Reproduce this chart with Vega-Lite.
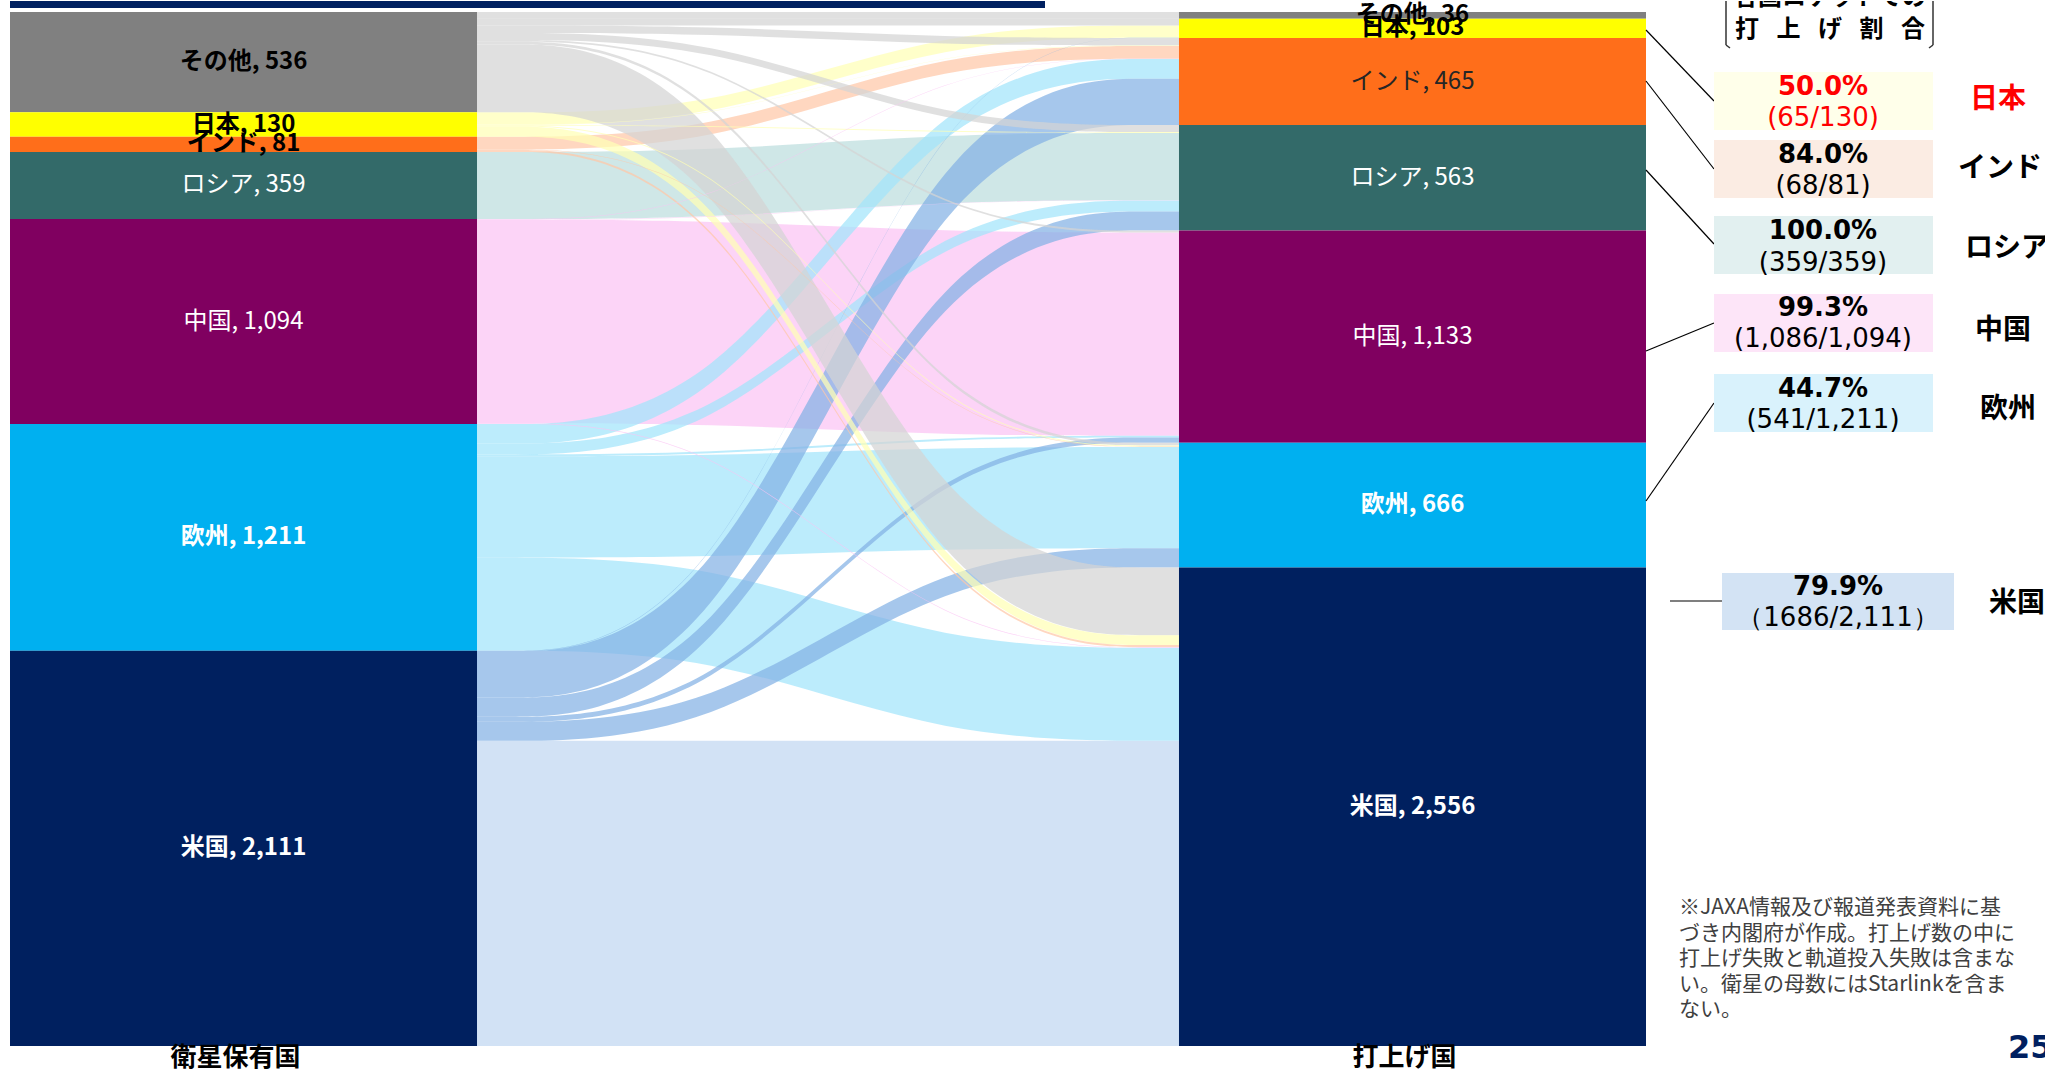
{
"$schema":"https://vega.github.io/schema/vega-lite/v6.json",
"width":2045,"height":1075,
"autosize":{"type":"fit","contains":"padding"},
"padding":0,
"background":"#FFFFFF",
"config":{"view":{"stroke":null},"font":"Noto Sans CJK JP"},
"datasets":{
"nodes":[
{"side":"衛星保有国","node":"その他","i":1,"n":536,"label":"その他, 536"},
{"side":"衛星保有国","node":"日本","i":2,"n":130,"label":"日本, 130"},
{"side":"衛星保有国","node":"インド","i":3,"n":81,"label":"インド, 81"},
{"side":"衛星保有国","node":"ロシア","i":4,"n":359,"label":"ロシア, 359"},
{"side":"衛星保有国","node":"中国","i":5,"n":1094,"label":"中国, 1,094"},
{"side":"衛星保有国","node":"欧州","i":6,"n":1211,"label":"欧州, 1,211"},
{"side":"衛星保有国","node":"米国","i":7,"n":2111,"label":"米国, 2,111"},
{"side":"打上げ国","node":"その他","i":1,"n":36,"label":"その他, 36"},
{"side":"打上げ国","node":"日本","i":2,"n":103,"label":"日本, 103"},
{"side":"打上げ国","node":"インド","i":3,"n":465,"label":"インド, 465"},
{"side":"打上げ国","node":"ロシア","i":4,"n":563,"label":"ロシア, 563"},
{"side":"打上げ国","node":"中国","i":5,"n":1133,"label":"中国, 1,133"},
{"side":"打上げ国","node":"欧州","i":6,"n":666,"label":"欧州, 666"},
{"side":"打上げ国","node":"米国","i":7,"n":2556,"label":"米国, 2,556"}
],
"flows":[
{"from":"中国","to":"中国","v":1086,"s1":"55","s2":"55","t1":"55","t2":"55"},
{"from":"ロシア","to":"ロシア","v":359,"s1":"44","s2":"44","t1":"44","t2":"44"},
{"from":"欧州","to":"欧州","v":541,"s1":"66","s2":"66","t1":"66","t2":"66"},
{"from":"米国","to":"米国","v":1630,"s1":"77","s2":"77","t1":"77","t2":"77"},
{"from":"インド","to":"インド","v":68,"s1":"33","s2":"33","t1":"33","t2":"33"},
{"from":"日本","to":"日本","v":65,"s1":"22","s2":"22","t1":"22","t2":"22"},
{"from":"欧州","to":"インド","v":105,"s1":"63","s2":"63","t1":"36","t2":"36"},
{"from":"欧州","to":"ロシア","v":58,"s1":"64","s2":"64","t1":"46","t2":"46"},
{"from":"欧州","to":"中国","v":10,"s1":"65","s2":"65","t1":"56","t2":"56"},
{"from":"欧州","to":"米国","v":497,"s1":"67","s2":"67","t1":"76","t2":"76"},
{"from":"米国","to":"日本","v":2,"s1":"72","s2":"72","t1":"27","t2":"27"},
{"from":"米国","to":"インド","v":248,"s1":"73","s2":"73","t1":"37","t2":"37"},
{"from":"米国","to":"ロシア","v":102,"s1":"74","s2":"74","t1":"47","t2":"47"},
{"from":"米国","to":"中国","v":27,"s1":"75","s2":"75","t1":"57","t2":"57"},
{"from":"米国","to":"欧州","v":102,"s1":"76","s2":"76","t1":"67","t2":"67"},
{"from":"その他","to":"その他","v":36,"s1":"11","s2":"11","t1":"11","t2":"11"},
{"from":"その他","to":"日本","v":36,"s1":"12","s2":"12","t1":"21","t2":"21"},
{"from":"その他","to":"インド","v":40,"s1":"13","s2":"13","t1":"31","t2":"31"},
{"from":"その他","to":"ロシア","v":37,"s1":"14","s2":"14","t1":"41","t2":"41"},
{"from":"その他","to":"中国","v":10,"s1":"15","s2":"15","t1":"51","t2":"51"},
{"from":"その他","to":"欧州","v":15,"s1":"16","s2":"16","t1":"61","t2":"61"},
{"from":"その他","to":"米国","v":362,"s1":"17","s2":"17","t1":"71","t2":"71"},
{"from":"日本","to":"インド","v":2,"s1":"23","s2":"23","t1":"32","t2":"32"},
{"from":"日本","to":"ロシア","v":5,"s1":"24","s2":"24","t1":"42","t2":"42"},
{"from":"日本","to":"欧州","v":5,"s1":"26","s2":"26","t1":"62","t2":"62"},
{"from":"日本","to":"米国","v":53,"s1":"27","s2":"27","t1":"72","t2":"72"},
{"from":"インド","to":"欧州","v":3,"s1":"36","s2":"36","t1":"63","t2":"63"},
{"from":"インド","to":"米国","v":10,"s1":"37","s2":"37","t1":"73","t2":"73"},
{"from":"中国","to":"インド","v":2,"s1":"53","s2":"53","t1":"35","t2":"35"},
{"from":"中国","to":"ロシア","v":2,"s1":"54","s2":"54","t1":"45","t2":"45"},
{"from":"中国","to":"米国","v":4,"s1":"57","s2":"57","t1":"75","t2":"75"}
],
"shares":[
{"country":"日本","pct":"50.0%","frac":"(65/130)"},
{"country":"インド","pct":"84.0%","frac":"(68/81)"},
{"country":"ロシア","pct":"100.0%","frac":"(359/359)"},
{"country":"中国","pct":"99.3%","frac":"(1,086/1,094)"},
{"country":"欧州","pct":"44.7%","frac":"(541/1,211)"},
{"country":"米国","pct":"79.9%","frac":"（1686/2,111）"}
]
},
"resolve":{"scale":{"x":"independent","y":"independent","color":"independent"}},
"layer":[
{
"data":{"name":"flows"},
"transform":[
{"fold":["s1","s2","t1","t2"],"as":["pt","key"]},
{"stack":"v","groupby":["pt"],"sort":[{"field":"key","order":"ascending"}],"as":["y0","y1"]}
],
"mark":{"type":"area","interpolate":"basis","fillOpacity":0.72},
"encoding":{
"x":{"field":"pt","type":"ordinal","scale":{"type":"point","domain":["s1","s2","t1","t2"],"range":[477,1179],"padding":0},"axis":null},
"y":{"field":"y0","type":"quantitative","stack":null,"scale":{"domain":[0,5522],"range":[11,1045],"nice":false,"zero":false},"axis":null},
"y2":{"field":"y1"},
"detail":[{"field":"from","type":"nominal"},{"field":"to","type":"nominal"}],
"color":{"condition":{"test":"datum.from === '米国' && datum.to !== '米国'","value":"#84B2E4"},"field":"from","type":"nominal","scale":{"domain":["その他","日本","インド","ロシア","中国","欧州","米国"],"range":["#D4D4D4","#FFFFB6","#FFC7A8","#BDDEDE","#FBC3F4","#A2E5FB","#C0D7F1"]},"legend":null}
}
},
{
"data":{"name":"nodes"},
"transform":[{"stack":"n","groupby":["side"],"sort":[{"field":"i","order":"ascending"}],"as":["y0","y1"]}],
"layer":[
{"mark":{"type":"rect"},
"encoding":{
"x":{"field":"side","type":"nominal","scale":{"type":"band","domain":["衛星保有国","打上げ国"],"range":[10,1646],"paddingInner":0.6005,"paddingOuter":0},"axis":null},
"y":{"field":"y0","type":"quantitative","stack":null,"scale":{"domain":[0,5522],"range":[11,1045],"nice":false,"zero":false},"axis":null},
"y2":{"field":"y1"},
"color":{"field":"node","type":"nominal","scale":{"domain":["その他","日本","インド","ロシア","中国","欧州","米国"],"range":["#808080","#FFFF00","#FF6E1A","#336A69","#800060","#00B0F0","#00205F"]},"legend":null}
}},
{"transform":[{"filter":"!(datum.node === 'ロシア' || datum.node === '中国' || (datum.node === 'インド' && datum.side === '打上げ国'))"},{"fold":["y0","y1"],"as":["edge","yv"]}],
"mark":{"type":"text","fontSize":24,"fontWeight":"bold","font":"Noto Sans CJK JP"},
"encoding":{
"x":{"field":"side","type":"nominal"},
"y":{"field":"yv","type":"quantitative","aggregate":"mean","stack":null},
"text":{"field":"label","type":"nominal"},
"detail":{"field":"node","type":"nominal"},
"color":{"condition":{"test":"datum.node === 'その他' || datum.node === '日本' || datum.node === 'インド'","value":"#000000"},"value":"#FFFFFF"}
}},
{"transform":[{"filter":"datum.node === 'ロシア' || datum.node === '中国' || (datum.node === 'インド' && datum.side === '打上げ国')"},{"fold":["y0","y1"],"as":["edge","yv"]}],
"mark":{"type":"text","fontSize":24,"fontWeight":"normal","font":"Noto Sans CJK JP"},
"encoding":{
"x":{"field":"side","type":"nominal"},
"y":{"field":"yv","type":"quantitative","aggregate":"mean","stack":null},
"text":{"field":"label","type":"nominal"},
"detail":{"field":"node","type":"nominal"},
"color":{"condition":{"test":"datum.node === 'インド'","value":"#262626"},"value":"#FFFFFF"}
}},
{"transform":[{"aggregate":[{"op":"count","as":"c"}],"groupby":["side"]}],
"mark":{"type":"text","fontSize":26,"fontWeight":"bold","dx":-8,"color":"#000000","font":"Noto Sans CJK JP"},
"encoding":{
"x":{"field":"side","type":"nominal"},
"y":{"datum":5588,"type":"quantitative"},
"text":{"field":"side","type":"nominal"}
}}
]
},
{
"data":{"name":"shares"},
"layer":[
{"data":{"values":[{}]},"mark":{"type":"rect","color":"#002060"},
"encoding":{"x":{"datum":10,"type":"quantitative","scale":{"domain":[0,2045],"range":[0,2045],"nice":false,"zero":false},"axis":null},"x2":{"datum":1045},
"y":{"datum":0,"type":"quantitative","scale":{"domain":[0,1075],"range":[0,1075],"nice":false,"zero":false},"axis":null},"y2":{"datum":7}}},
{"data":{"values":[{}]},"mark":{"type":"text","text":"各国ロケットでの","fontSize":24,"fontWeight":"bold","color":"#000000","clip":true},
"encoding":{"x":{"datum":1830,"type":"quantitative"},"y":{"datum":-3,"type":"quantitative"}}},
{"data":{"values":[{}]},"mark":{"type":"text","text":"打\u2002 上\u2002 げ\u2002 割\u2002 合","fontSize":24,"fontWeight":"bold","color":"#000000"},
"encoding":{"x":{"datum":1830,"type":"quantitative"},"y":{"datum":29,"type":"quantitative"}}},
{"data":{"values":[{}]},"mark":{"type":"rule","color":"#333333","strokeWidth":1.5},
"encoding":{"x":{"datum":1726,"type":"quantitative"},"x2":{"datum":1726},"y":{"datum":0,"type":"quantitative"},"y2":{"datum":44}}},
{"data":{"values":[{}]},"mark":{"type":"rule","color":"#333333","strokeWidth":1.5},
"encoding":{"x":{"datum":1726,"type":"quantitative"},"x2":{"datum":1730},"y":{"datum":44,"type":"quantitative"},"y2":{"datum":47}}},
{"data":{"values":[{}]},"mark":{"type":"rule","color":"#333333","strokeWidth":1.5},
"encoding":{"x":{"datum":1933,"type":"quantitative"},"x2":{"datum":1933},"y":{"datum":0,"type":"quantitative"},"y2":{"datum":44}}},
{"data":{"values":[{}]},"mark":{"type":"rule","color":"#333333","strokeWidth":1.5},
"encoding":{"x":{"datum":1933,"type":"quantitative"},"x2":{"datum":1929},"y":{"datum":44,"type":"quantitative"},"y2":{"datum":47}}},

{"transform":[{"filter":"datum.country === '日本'"}],"layer":[
{"mark":{"type":"rule","color":"#000000","strokeWidth":1.2},"encoding":{"x":{"datum":1646,"type":"quantitative"},"x2":{"datum":1714},"y":{"datum":29,"type":"quantitative"},"y2":{"datum":100}}},
{"mark":{"type":"rect","color":"#FFFFEA"},"encoding":{"x":{"datum":1714,"type":"quantitative"},"x2":{"datum":1933},"y":{"datum":71,"type":"quantitative"},"y2":{"datum":129}}},
{"mark":{"type":"text","font":"DejaVu Sans","fontSize":26,"fontWeight":"bold","color":"#FF0000"},"encoding":{"x":{"datum":1823,"type":"quantitative"},"y":{"datum":86,"type":"quantitative"},"text":{"field":"pct","type":"nominal"}}},
{"mark":{"type":"text","font":"DejaVu Sans","fontSize":26,"color":"#FF0000"},"encoding":{"x":{"datum":1823,"type":"quantitative"},"y":{"datum":117,"type":"quantitative"},"text":{"field":"frac","type":"nominal"}}},
{"mark":{"type":"text","fontSize":28,"fontWeight":"bold","color":"#FF0000","clip":true},"encoding":{"x":{"datum":1998,"type":"quantitative"},"y":{"datum":99,"type":"quantitative"},"text":{"field":"country","type":"nominal"}}}
]},
{"transform":[{"filter":"datum.country === 'インド'"}],"layer":[
{"mark":{"type":"rule","color":"#000000","strokeWidth":1.2},"encoding":{"x":{"datum":1646,"type":"quantitative"},"x2":{"datum":1714},"y":{"datum":80,"type":"quantitative"},"y2":{"datum":168}}},
{"mark":{"type":"rect","color":"#FBECE3"},"encoding":{"x":{"datum":1714,"type":"quantitative"},"x2":{"datum":1933},"y":{"datum":139,"type":"quantitative"},"y2":{"datum":197}}},
{"mark":{"type":"text","font":"DejaVu Sans","fontSize":26,"fontWeight":"bold","color":"#000000"},"encoding":{"x":{"datum":1823,"type":"quantitative"},"y":{"datum":154,"type":"quantitative"},"text":{"field":"pct","type":"nominal"}}},
{"mark":{"type":"text","font":"DejaVu Sans","fontSize":26,"color":"#000000"},"encoding":{"x":{"datum":1823,"type":"quantitative"},"y":{"datum":185,"type":"quantitative"},"text":{"field":"frac","type":"nominal"}}},
{"mark":{"type":"text","fontSize":28,"fontWeight":"bold","color":"#000000","clip":true},"encoding":{"x":{"datum":2000,"type":"quantitative"},"y":{"datum":168,"type":"quantitative"},"text":{"field":"country","type":"nominal"}}}
]},
{"transform":[{"filter":"datum.country === 'ロシア'"}],"layer":[
{"mark":{"type":"rule","color":"#000000","strokeWidth":1.2},"encoding":{"x":{"datum":1646,"type":"quantitative"},"x2":{"datum":1714},"y":{"datum":169,"type":"quantitative"},"y2":{"datum":243}}},
{"mark":{"type":"rect","color":"#E2F0F0"},"encoding":{"x":{"datum":1714,"type":"quantitative"},"x2":{"datum":1933},"y":{"datum":215,"type":"quantitative"},"y2":{"datum":273}}},
{"mark":{"type":"text","font":"DejaVu Sans","fontSize":26,"fontWeight":"bold","color":"#000000"},"encoding":{"x":{"datum":1823,"type":"quantitative"},"y":{"datum":230,"type":"quantitative"},"text":{"field":"pct","type":"nominal"}}},
{"mark":{"type":"text","font":"DejaVu Sans","fontSize":26,"color":"#000000"},"encoding":{"x":{"datum":1823,"type":"quantitative"},"y":{"datum":262,"type":"quantitative"},"text":{"field":"frac","type":"nominal"}}},
{"mark":{"type":"text","fontSize":28,"fontWeight":"bold","color":"#000000","clip":true},"encoding":{"x":{"datum":2007,"type":"quantitative"},"y":{"datum":248,"type":"quantitative"},"text":{"field":"country","type":"nominal"}}}
]},
{"transform":[{"filter":"datum.country === '中国'"}],"layer":[
{"mark":{"type":"rule","color":"#000000","strokeWidth":1.2},"encoding":{"x":{"datum":1646,"type":"quantitative"},"x2":{"datum":1714},"y":{"datum":350,"type":"quantitative"},"y2":{"datum":322}}},
{"mark":{"type":"rect","color":"#FDE5F8"},"encoding":{"x":{"datum":1714,"type":"quantitative"},"x2":{"datum":1933},"y":{"datum":293,"type":"quantitative"},"y2":{"datum":351}}},
{"mark":{"type":"text","font":"DejaVu Sans","fontSize":26,"fontWeight":"bold","color":"#000000"},"encoding":{"x":{"datum":1823,"type":"quantitative"},"y":{"datum":307,"type":"quantitative"},"text":{"field":"pct","type":"nominal"}}},
{"mark":{"type":"text","font":"DejaVu Sans","fontSize":26,"color":"#000000"},"encoding":{"x":{"datum":1823,"type":"quantitative"},"y":{"datum":338,"type":"quantitative"},"text":{"field":"frac","type":"nominal"}}},
{"mark":{"type":"text","fontSize":28,"fontWeight":"bold","color":"#000000","clip":true},"encoding":{"x":{"datum":2003,"type":"quantitative"},"y":{"datum":330,"type":"quantitative"},"text":{"field":"country","type":"nominal"}}}
]},
{"transform":[{"filter":"datum.country === '欧州'"}],"layer":[
{"mark":{"type":"rule","color":"#000000","strokeWidth":1.2},"encoding":{"x":{"datum":1646,"type":"quantitative"},"x2":{"datum":1714},"y":{"datum":500,"type":"quantitative"},"y2":{"datum":402}}},
{"mark":{"type":"rect","color":"#D9F2FC"},"encoding":{"x":{"datum":1714,"type":"quantitative"},"x2":{"datum":1933},"y":{"datum":373,"type":"quantitative"},"y2":{"datum":431}}},
{"mark":{"type":"text","font":"DejaVu Sans","fontSize":26,"fontWeight":"bold","color":"#000000"},"encoding":{"x":{"datum":1823,"type":"quantitative"},"y":{"datum":388,"type":"quantitative"},"text":{"field":"pct","type":"nominal"}}},
{"mark":{"type":"text","font":"DejaVu Sans","fontSize":26,"color":"#000000"},"encoding":{"x":{"datum":1823,"type":"quantitative"},"y":{"datum":419,"type":"quantitative"},"text":{"field":"frac","type":"nominal"}}},
{"mark":{"type":"text","fontSize":28,"fontWeight":"bold","color":"#000000","clip":true},"encoding":{"x":{"datum":2008,"type":"quantitative"},"y":{"datum":409,"type":"quantitative"},"text":{"field":"country","type":"nominal"}}}
]},
{"transform":[{"filter":"datum.country === '米国'"}],"layer":[
{"mark":{"type":"rule","color":"#000000","strokeWidth":1.2},"encoding":{"x":{"datum":1670,"type":"quantitative"},"x2":{"datum":1722},"y":{"datum":600,"type":"quantitative"},"y2":{"datum":600}}},
{"mark":{"type":"rect","color":"#D3E3F4"},"encoding":{"x":{"datum":1722,"type":"quantitative"},"x2":{"datum":1954},"y":{"datum":572,"type":"quantitative"},"y2":{"datum":629}}},
{"mark":{"type":"text","font":"DejaVu Sans","fontSize":26,"fontWeight":"bold","color":"#000000"},"encoding":{"x":{"datum":1838,"type":"quantitative"},"y":{"datum":586,"type":"quantitative"},"text":{"field":"pct","type":"nominal"}}},
{"mark":{"type":"text","font":"DejaVu Sans","fontSize":26,"color":"#000000"},"encoding":{"x":{"datum":1838,"type":"quantitative"},"y":{"datum":617,"type":"quantitative"},"text":{"field":"frac","type":"nominal"}}},
{"mark":{"type":"text","fontSize":28,"fontWeight":"bold","color":"#000000","clip":true},"encoding":{"x":{"datum":2017,"type":"quantitative"},"y":{"datum":603,"type":"quantitative"},"text":{"field":"country","type":"nominal"}}}
]},
{"data":{"values":[{}]},"mark":{"type":"text","align":"left","baseline":"middle","fontSize":21,"lineHeight":25.5,"color":"#404040","text":["※JAXA情報及び報道発表資料に基","づき内閣府が作成。打上げ数の中に","打上げ失敗と軌道投入失敗は含まな","い。衛星の母数にはStarlinkを含ま","ない。"]},
"encoding":{"x":{"datum":1679,"type":"quantitative"},"y":{"datum":907,"type":"quantitative"}}},
{"data":{"values":[{}]},"mark":{"type":"text","text":"25","align":"left","font":"DejaVu Sans","fontSize":32,"fontWeight":"bold","color":"#002060","clip":true},
"encoding":{"x":{"datum":2008,"type":"quantitative"},"y":{"datum":1047,"type":"quantitative"}}}
]
}
]
}
